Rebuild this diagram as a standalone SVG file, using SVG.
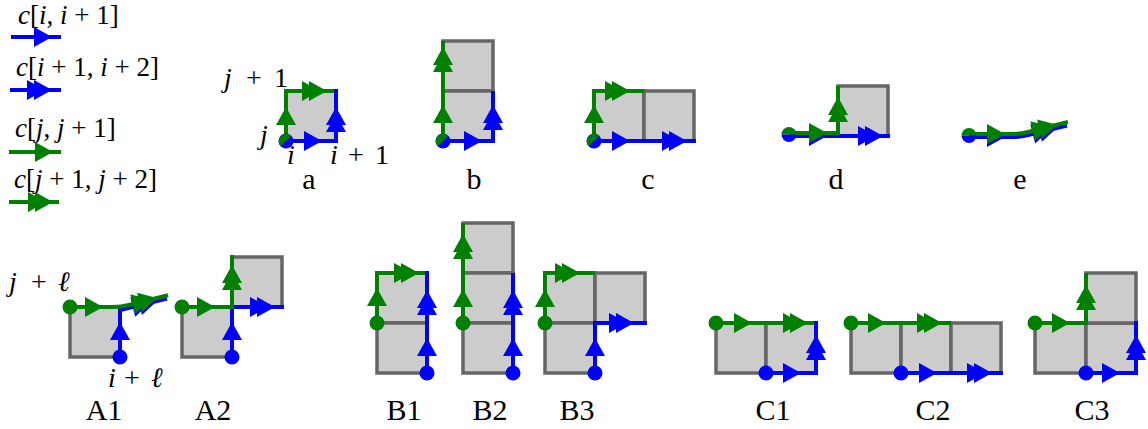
<svg xmlns="http://www.w3.org/2000/svg" xmlns:xlink="http://www.w3.org/1999/xlink" width="1148" height="429" viewBox="0 0 1148 429">
<style>
.cell{fill:#cccccc;stroke:#666666;stroke-width:3.5}
.bl{fill:none;stroke:#0000ff;stroke-width:4;stroke-linejoin:miter}
.gl{fill:none;stroke:#008000;stroke-width:4;stroke-linejoin:miter}
.bf{fill:#0000ff}
.gf{fill:#008000}
.t{font-family:"Liberation Serif","Times New Roman",serif;font-size:27px;fill:#000}
.m{font-size:28px}
.lab{text-anchor:middle;font-size:30px}
.i{font-style:italic}
.u{font-style:normal}
</style>
<defs>
<path id="s1" d="M0,0 L-18,-10 L-18,10 Z"/>
<path id="s2" d="M0,0 L-18,-10 L-18,10 Z M-7,0 L-25,-10 L-25,10 Z"/>
</defs>
<rect width="1148" height="429" fill="#ffffff"/>

<g id="legend">
<text class="t i" x="18" y="24">c<tspan class="u">[</tspan>i<tspan class="u">, </tspan>i<tspan class="u"> + 1]</tspan></text>
<line class="bl" x1="11" y1="37" x2="61" y2="37"/>
<use xlink:href="#s1" class="bf" transform="translate(52,37)"/>
<text class="t i" x="16" y="76">c<tspan class="u">[</tspan>i<tspan class="u"> + 1, </tspan>i<tspan class="u"> + 2]</tspan></text>
<line class="bl" x1="10" y1="90" x2="61" y2="90"/>
<use xlink:href="#s2" class="bf" transform="translate(52,90)"/>
<text class="t i" x="15" y="137">c<tspan class="u">[</tspan>j<tspan class="u">, </tspan>j<tspan class="u"> + 1]</tspan></text>
<line class="gl" x1="9" y1="152" x2="61" y2="152"/>
<use xlink:href="#s1" class="gf" transform="translate(53,152)"/>
<text class="t i" x="14" y="188">c<tspan class="u">[</tspan>j<tspan class="u"> + 1, </tspan>j<tspan class="u"> + 2]</tspan></text>
<line class="gl" x1="9" y1="202" x2="59" y2="202"/>
<use xlink:href="#s2" class="gf" transform="translate(53,202)"/>
</g>

<g id="fig-a">
<rect class="cell" x="286" y="91" width="50" height="50"/>
<polyline class="gl" points="286,141 286,91 336,91"/>
<use xlink:href="#s1" class="gf" transform="translate(286,107) rotate(-90)"/>
<use xlink:href="#s2" class="gf" transform="translate(327,91)"/>
<polyline class="bl" points="286,141 336,141 336,89"/>
<use xlink:href="#s1" class="bf" transform="translate(322,141)"/>
<use xlink:href="#s2" class="bf" transform="translate(336,107) rotate(-90)"/>
<circle class="bf" cx="286" cy="141" r="7.5"/>
<path class="gf" d="M291.3,135.7 A7.5,7.5 0 0,0 280.7,146.3 Z"/>
<text class="t m i" y="87"><tspan x="224">j</tspan><tspan class="u" x="246">+</tspan><tspan class="u" x="274">1</tspan></text>
<text class="t m i" x="260" y="144">j</text>
<text class="t m i" x="287" y="164">i</text>
<text class="t m i" y="164"><tspan x="330">i</tspan><tspan class="u" x="348">+</tspan><tspan class="u" x="375">1</tspan></text>
<text class="t lab" x="309" y="189">a</text>
</g>

<g id="fig-b">
<rect class="cell" x="443" y="41" width="50" height="50"/>
<rect class="cell" x="443" y="91" width="50" height="50"/>
<polyline class="bl" points="443,141 493,141 493,91"/>
<use xlink:href="#s1" class="bf" transform="translate(482,141)"/>
<use xlink:href="#s2" class="bf" transform="translate(493,105) rotate(-90)"/>
<polyline class="gl" points="443,141 443,41"/>
<use xlink:href="#s1" class="gf" transform="translate(443,105) rotate(-90)"/>
<use xlink:href="#s2" class="gf" transform="translate(443,47) rotate(-90)"/>
<circle class="bf" cx="443" cy="141" r="7.5"/>
<path class="gf" d="M448.3,135.7 A7.5,7.5 0 0,0 437.7,146.3 Z"/>
<text class="t lab" x="474" y="189">b</text>
</g>

<g id="fig-c">
<rect class="cell" x="594" y="91" width="50" height="50"/>
<rect class="cell" x="644" y="91" width="50" height="50"/>
<polyline class="bl" points="594,141 696,141"/>
<use xlink:href="#s1" class="bf" transform="translate(630,141)"/>
<use xlink:href="#s2" class="bf" transform="translate(687,141)"/>
<polyline class="gl" points="594,141 594,91 644,91"/>
<use xlink:href="#s1" class="gf" transform="translate(594,105) rotate(-90)"/>
<use xlink:href="#s2" class="gf" transform="translate(630,91)"/>
<circle class="bf" cx="594" cy="141" r="7.5"/>
<path class="gf" d="M599.3,135.7 A7.5,7.5 0 0,0 588.7,146.3 Z"/>
<text class="t lab" x="648" y="189">c</text>
</g>

<g id="fig-d">
<rect class="cell" x="838" y="86" width="50" height="50"/>
<polyline class="bl" points="789,136 890,136"/>
<use xlink:href="#s1" class="bf" transform="translate(827,136)"/>
<use xlink:href="#s2" class="bf" transform="translate(883,136)"/>
<polyline class="gl" points="789,133 838,133 838,86"/>
<use xlink:href="#s1" class="gf" transform="translate(827,133)"/>
<use xlink:href="#s2" class="gf" transform="translate(838,97) rotate(-90)"/>
<path class="gf" d="M781.5,134.5 A7.5,7.5 0 0,1 796.5,134.5 Z"/>
<path class="bf" d="M781.5,134.5 A7.5,7.5 0 0,0 796.5,134.5 Z"/>
<text class="t lab" x="836" y="189">d</text>
</g>

<g id="fig-e">
<path class="bl" d="M969,137 H1012 Q1020,137 1028,135 L1067,125.5"/>
<use xlink:href="#s1" class="bf" transform="translate(1005,137)"/>
<use xlink:href="#s2" class="bf" transform="translate(1057,127.8) rotate(-14)"/>
<path class="gl" d="M969,134 H1012 Q1020,134 1028,132 L1068,122"/>
<use xlink:href="#s1" class="gf" transform="translate(1005,134)"/>
<use xlink:href="#s2" class="gf" transform="translate(1057,124.8) rotate(-14)"/>
<path class="gf" d="M961.5,135.5 A7.5,7.5 0 0,1 976.5,135.5 Z"/>
<path class="bf" d="M961.5,135.5 A7.5,7.5 0 0,0 976.5,135.5 Z"/>
<text class="t lab" x="1020" y="189">e</text>
</g>

<g id="fig-A1">
<rect class="cell" x="70" y="307" width="50" height="50"/>
<path class="bl" d="M120,357 V310 L167,298.5"/>
<use xlink:href="#s1" class="bf" transform="translate(120,322) rotate(-90)"/>
<use xlink:href="#s2" class="bf" transform="translate(157,301) rotate(-14)"/>
<path class="gl" d="M70,307 H113 Q121,307 129,305 L168,295.3"/>
<use xlink:href="#s1" class="gf" transform="translate(103,307)"/>
<use xlink:href="#s2" class="gf" transform="translate(157,298) rotate(-14)"/>
<circle class="gf" cx="70" cy="307" r="7.5"/>
<circle class="bf" cx="120" cy="357" r="7.5"/>
<text class="t m i" y="291"><tspan x="9">j</tspan><tspan class="u" x="31">+</tspan><tspan x="58">ℓ</tspan></text>
<text class="t m i" y="387"><tspan x="108">i</tspan><tspan class="u" x="124">+</tspan><tspan x="151">ℓ</tspan></text>
<text class="t lab" x="104" y="420">A1</text>
</g>

<g id="fig-A2">
<rect class="cell" x="182" y="307" width="50" height="50"/>
<rect class="cell" x="232" y="257" width="50" height="50"/>
<polyline class="bl" points="232,357 232,307 284,307"/>
<use xlink:href="#s1" class="bf" transform="translate(232,322) rotate(-90)"/>
<use xlink:href="#s2" class="bf" transform="translate(275,307)"/>
<polyline class="gl" points="182,307 232,307 232,255"/>
<use xlink:href="#s1" class="gf" transform="translate(215,307)"/>
<use xlink:href="#s2" class="gf" transform="translate(232,265) rotate(-90)"/>
<circle class="gf" cx="182" cy="307" r="7.5"/>
<circle class="bf" cx="232" cy="357" r="7.5"/>
<text class="t lab" x="213" y="420">A2</text>
</g>

<g id="fig-B1">
<rect class="cell" x="377" y="273" width="50" height="50"/>
<rect class="cell" x="377" y="323" width="50" height="50"/>
<polyline class="gl" points="377,323 377,273 427,273"/>
<use xlink:href="#s1" class="gf" transform="translate(377,288) rotate(-90)"/>
<use xlink:href="#s2" class="gf" transform="translate(419,273)"/>
<polyline class="bl" points="427,373 427,271"/>
<use xlink:href="#s1" class="bf" transform="translate(427,338) rotate(-90)"/>
<use xlink:href="#s2" class="bf" transform="translate(427,290) rotate(-90)"/>
<circle class="gf" cx="377" cy="323" r="7.5"/>
<circle class="bf" cx="427" cy="373" r="7.5"/>
<text class="t lab" x="404" y="420">B1</text>
</g>

<g id="fig-B2">
<rect class="cell" x="463" y="223" width="50" height="50"/>
<rect class="cell" x="463" y="273" width="50" height="50"/>
<rect class="cell" x="463" y="323" width="50" height="50"/>
<polyline class="gl" points="463,323 463,223"/>
<use xlink:href="#s1" class="gf" transform="translate(463,289) rotate(-90)"/>
<use xlink:href="#s2" class="gf" transform="translate(463,234) rotate(-90)"/>
<polyline class="bl" points="513,373 513,273"/>
<use xlink:href="#s1" class="bf" transform="translate(513,338) rotate(-90)"/>
<use xlink:href="#s2" class="bf" transform="translate(513,290) rotate(-90)"/>
<circle class="gf" cx="463" cy="323" r="7.5"/>
<circle class="bf" cx="513" cy="373" r="7.5"/>
<text class="t lab" x="490" y="420">B2</text>
</g>

<g id="fig-B3">
<rect class="cell" x="545" y="273" width="50" height="50"/>
<rect class="cell" x="545" y="323" width="50" height="50"/>
<rect class="cell" x="595" y="273" width="50" height="50"/>
<polyline class="gl" points="545,323 545,273 595,273"/>
<use xlink:href="#s1" class="gf" transform="translate(545,289) rotate(-90)"/>
<use xlink:href="#s2" class="gf" transform="translate(580,273)"/>
<polyline class="bl" points="595,373 595,323 647,323"/>
<use xlink:href="#s1" class="bf" transform="translate(595,338) rotate(-90)"/>
<use xlink:href="#s2" class="bf" transform="translate(634,323)"/>
<circle class="gf" cx="545" cy="323" r="7.5"/>
<circle class="bf" cx="595" cy="373" r="7.5"/>
<text class="t lab" x="577" y="420">B3</text>
</g>

<g id="fig-C1">
<rect class="cell" x="716" y="323" width="50" height="50"/>
<rect class="cell" x="766" y="323" width="50" height="50"/>
<polyline class="gl" points="716,323 816,323"/>
<use xlink:href="#s1" class="gf" transform="translate(752,323)"/>
<use xlink:href="#s2" class="gf" transform="translate(808,323)"/>
<polyline class="bl" points="766,373 816,373 816,321"/>
<use xlink:href="#s1" class="bf" transform="translate(801,373)"/>
<use xlink:href="#s2" class="bf" transform="translate(816,335) rotate(-90)"/>
<circle class="gf" cx="716" cy="323" r="7.5"/>
<circle class="bf" cx="766" cy="373" r="7.5"/>
<text class="t lab" x="773" y="420">C1</text>
</g>

<g id="fig-C2">
<rect class="cell" x="851" y="323" width="50" height="50"/>
<rect class="cell" x="901" y="323" width="50" height="50"/>
<rect class="cell" x="951" y="323" width="50" height="50"/>
<polyline class="gl" points="851,323 951,323"/>
<use xlink:href="#s1" class="gf" transform="translate(886,323)"/>
<use xlink:href="#s2" class="gf" transform="translate(942,323)"/>
<polyline class="bl" points="901,373 1003,373"/>
<use xlink:href="#s1" class="bf" transform="translate(937,373)"/>
<use xlink:href="#s2" class="bf" transform="translate(992,373)"/>
<circle class="gf" cx="851" cy="323" r="7.5"/>
<circle class="bf" cx="901" cy="373" r="7.5"/>
<text class="t lab" x="933" y="420">C2</text>
</g>

<g id="fig-C3">
<rect class="cell" x="1035" y="323" width="51" height="50"/>
<rect class="cell" x="1086" y="323" width="50" height="50"/>
<rect class="cell" x="1086" y="273" width="50" height="50"/>
<polyline class="gl" points="1035,323 1086,323 1086,273"/>
<use xlink:href="#s1" class="gf" transform="translate(1070,323)"/>
<use xlink:href="#s2" class="gf" transform="translate(1086,285) rotate(-90)"/>
<polyline class="bl" points="1086,373 1136,373 1136,321"/>
<use xlink:href="#s1" class="bf" transform="translate(1120,373)"/>
<use xlink:href="#s2" class="bf" transform="translate(1136,335) rotate(-90)"/>
<circle class="gf" cx="1035" cy="323" r="7.5"/>
<circle class="bf" cx="1086" cy="373" r="7.5"/>
<text class="t lab" x="1092" y="420">C3</text>
</g>
</svg>
